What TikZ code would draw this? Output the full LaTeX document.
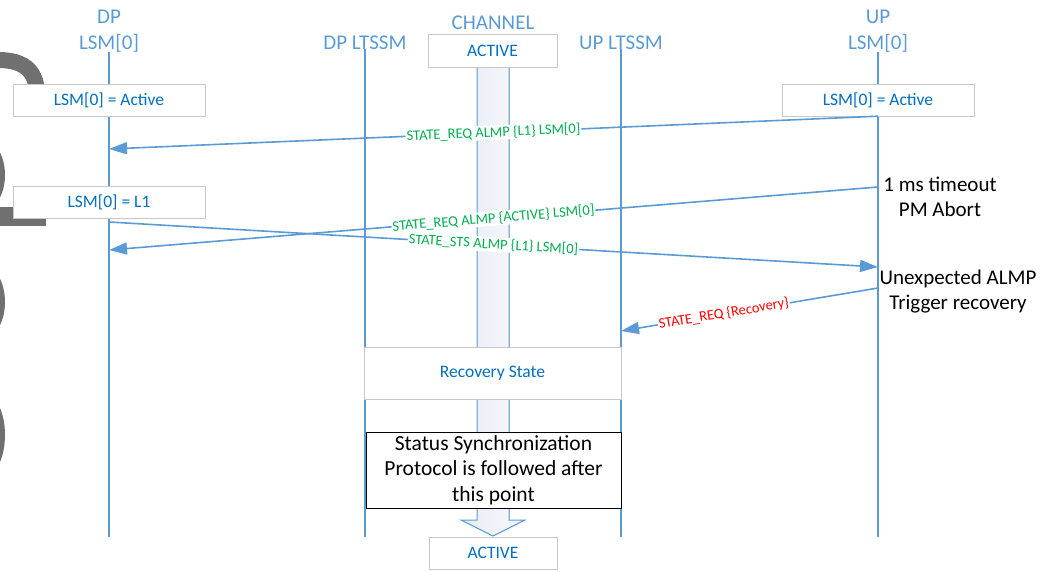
\documentclass[tikz,border=0pt]{standalone}
\usepackage{fontspec}
\setmainfont{Carlito}
\usetikzlibrary{arrows.meta}

\definecolor{lifeblue}{HTML}{5B9BD5}
\definecolor{textblue}{HTML}{0070C0}
\definecolor{boxgrey}{HTML}{C8C8C8}
\definecolor{msggreen}{HTML}{00B050}
\definecolor{chanfill}{HTML}{E8ECF5}
\definecolor{chanlight}{HTML}{F8F9FC}
\definecolor{markgrey}{HTML}{707070}

\begin{document}
\begin{tikzpicture}
[x=1pt,y=-1pt,
 lsmhead/.style={text=lifeblue,font=\fontsize{21}{24}\selectfont,anchor=base,inner sep=0pt},
 statebox/.style={draw=boxgrey,fill=white,text=textblue,font=\fontsize{17.5}{20}\selectfont,minimum height=32pt,inner sep=0pt},
 lifeline/.style={draw=lifeblue,line width=1.8pt},
 msgline/.style={draw=lifeblue,line width=1.6pt,-{Triangle[length=18pt,width=12pt]}},
 msglabel/.style={font=\fontsize{14.5}{16}\selectfont,text=msggreen,fill=white,inner sep=1pt,sloped},
 notetext/.style={font=\fontsize{21}{25}\selectfont,align=center,inner sep=0pt}]
\useasboundingbox (0,0) rectangle (1040,571);

% grey marks cut off at the left edge
\begin{scope}[markgrey,line width=16pt]
\draw (-6,60) .. controls (28,59) and (40,73) .. (37,108);
\draw (-12,150) .. controls (0,160) and (0,190) .. (-12,200);
\fill (0,207) rectangle (46,226);
\draw (-12,275) .. controls (0,288) and (0,316) .. (-12,329);
\draw (-12,403) .. controls (0,418) and (0,452) .. (-12,467);
\end{scope}

% channel
\fill[left color=chanfill,right color=chanlight] (477,67) -- (477,520) -- (461,520) -- (493,536) -- (525,520) -- (509,520) -- (509,67) -- cycle;
\draw[lifeblue,line width=1pt] (477,67) -- (477,520) -- (461,520) -- (493,536) -- (525,520) -- (509,520) -- (509,67);

% heads
\node[lsmhead] (dptop) at (109,23) {DP};
\node[lsmhead] (dp) at (109,49) {LSM[0]};
\node[lsmhead] (dpl) at (365,49) {DP LTSSM};
\node[lsmhead] (chan) at (493,29) {CHANNEL};
\node[lsmhead] (upl) at (621,49) {UP LTSSM};
\node[lsmhead] (uptop) at (878,23) {UP};
\node[lsmhead] (up) at (878,49) {LSM[0]};

\foreach \n in {dp,dpl,upl,up}
\draw[lifeline] (\n.south) -- (\n.south |- 0,537);

% states
\node[statebox,minimum width=192pt] (dpact) at (109,100) {LSM[0] = Active};
\node[statebox,minimum width=192pt] (dpl1) at (109,202) {LSM[0] = L1};
\node[statebox,minimum width=192pt] (upact) at (878,100) {LSM[0] = Active};
\node[statebox,minimum width=129pt,minimum height=33pt] (chact) at (492.5,51) {ACTIVE};
\node[statebox,minimum width=257pt,minimum height=52pt] (recov) at (492.5,373) {Recovery State};
\node[notetext,draw=black,fill=white,line width=1pt,minimum width=255pt,minimum height=76pt,font=\fontsize{21.5}{25.5}\selectfont] (sync) at (493.5,470) {Status Synchronization\\Protocol is followed after\\this point};
\node[statebox,minimum width=128pt] (finact) at (493,553) {ACTIVE};

% notes on UP side
\node[notetext] (timeout) at (940,197) {1 ms timeout\\PM Abort};
\node[notetext] (unexp) at (958,292) {Unexpected ALMP\\Trigger recovery};

% messages
\coordinate (m1b) at (109,149);
\coordinate (m2a) at (878,187);
\coordinate (m2b) at (109,250);
\coordinate (m3a) at (109,222);
\coordinate (m3b) at (878,267);
\coordinate (m4a) at (878,288);
\coordinate (m4b) at (621,331);
\draw[msgline] (upact.south) -- node[msglabel]{STATE\_REQ ALMP \{L1\} LSM[0]} (m1b);
\draw[msgline] (m2a) -- node[msglabel]{STATE\_REQ ALMP \{ACTIVE\} LSM[0]} (m2b);
\draw[msgline] (m3a) -- node[msglabel]{STATE\_STS ALMP \{L1\} LSM[0]} (m3b);
\draw[msgline] (m4a) -- node[msglabel,text=red,pos=0.6]{STATE\_REQ \{Recovery\}} (m4b);
\end{tikzpicture}
\end{document}
